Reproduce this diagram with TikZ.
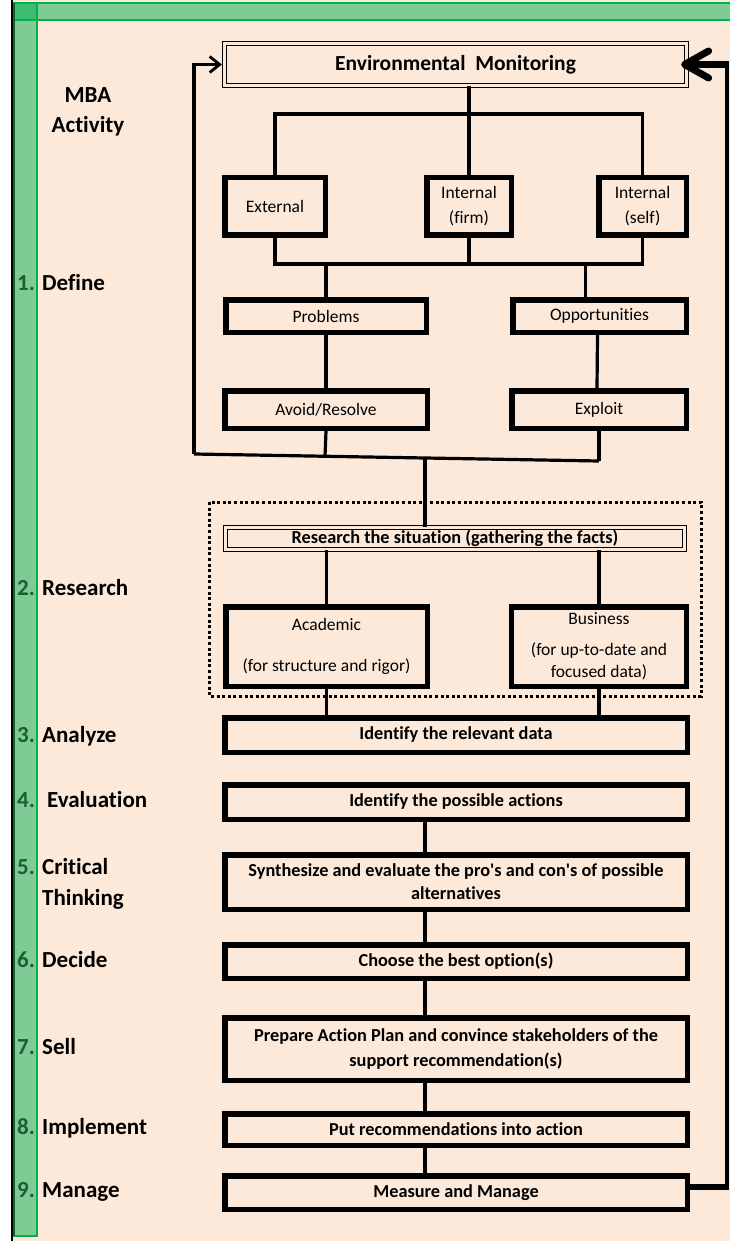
\documentclass[tikz,border=0pt]{standalone}
\usepackage{fontspec}
\setmainfont[Ligatures={TeX,NoCommon}]{Carlito}
\usetikzlibrary{arrows.meta}
\definecolor{peach}{HTML}{FDE9D9}
\definecolor{wgreen}{HTML}{00B050}
\definecolor{dgreen}{RGB}{15,95,45}
\definecolor{numgreen}{RGB}{25,95,55}
\begin{document}
\begin{tikzpicture}[x=1pt,y=-1pt,
  box/.style={draw=black, line width=5.5pt, inner sep=0pt, align=center, font=\fontsize{17.5}{21}\selectfont},
  bbox/.style={box, font=\fontsize{18.3}{23}\selectfont\bfseries, minimum width=462.5pt},
  dblbox/.style={draw=black, double=peach, double distance=2.5pt, line width=1.3pt, inner sep=0pt, align=center, font=\fontsize{18.3}{23}\selectfont\bfseries},
  conn/.style={draw=black, line width=3.2pt},
  conn2/.style={draw=black, line width=3.6pt},
  fbthin/.style={draw=black, line width=4pt},
  fbthick/.style={draw=black, line width=6.5pt},
  smallarrow/.style={-{Straight Barb[length=10pt,width=16pt,line width=2.8pt]}},
  bigarrow/.style={-{Straight Barb[length=24pt,width=27pt,line width=7pt,round]}},
  lab/.style={font=\fontsize{23}{30}\selectfont\bfseries, anchor=base west, inner sep=0pt},
  num/.style={lab, text=numgreen},
  dotbox/.style={draw=black, line width=3pt, dash pattern=on 3pt off 2.6pt}
]
\useasboundingbox (0,0) rectangle (730,1241);
% background
\fill[white] (0,0) rectangle (730,1241);
\fill[peach] (12,0) rectangle (730,1241);
\draw[black, line width=1.3pt] (12,0) -- (12,1241);
% green bars
\fill[wgreen, fill opacity=0.5] (14,3.5) rectangle (730,20.5);
\fill[wgreen, fill opacity=0.5] (14,3.5) rectangle (37,1236);
\draw[wgreen, line width=2pt] (14,3.5) rectangle (737,20.5);
\draw[wgreen, line width=2pt] (14,3.5) rectangle (37,1236);
\draw[dgreen, line width=2pt] (14,3.5) -- (14,1236);

% left labels
\node[lab, anchor=center, align=center] (mba) at (88,112) {MBA\\Activity};
\node[num] (n1) at (17,290.5) {1.};
\node[lab] (l1) at (42,290.5) {Define};
\node[num] (n2) at (17,595.5) {2.};
\node[lab] (l2) at (42,595.5) {Research};
\node[num] (n3) at (17,742.5) {3.};
\node[lab] (l3) at (42,742.5) {Analyze};
\node[num] (n4) at (17,807.5) {4.};
\node[lab] (l4) at (47,807.5) {Evaluation};
\node[num] (n5) at (17,874.5) {5.};
\node[lab] (l5) at (42,874.5) {Critical};
\node[lab] (l5b) at (42,905.5) {Thinking};
\node[num] (n6) at (17,967.5) {6.};
\node[lab] (l6) at (42,967.5) {Decide};
\node[num] (n7) at (17,1054.5) {7.};
\node[lab] (l7) at (42,1054.5) {Sell};
\node[num] (n8) at (17,1134.5) {8.};
\node[lab] (l8) at (42,1134.5) {Implement};
\node[num] (n9) at (17,1197.5) {9.};
\node[lab] (l9) at (42,1197.5) {Manage};

% boxes
\node[dblbox, minimum width=461.9pt, minimum height=41.9pt, font=\fontsize{21.5}{25}\selectfont\bfseries] (env) at (455.5,64.5) {Environmental\ \ Monitoring};
\node[box, minimum width=100.5pt, minimum height=57.5pt] (ext) at (275,206.5) {External};
\node[box, minimum width=84.5pt, minimum height=57.5pt, font=\fontsize{17.5}{25}\selectfont] (firm) at (469,206.5) {Internal\\(firm)};
\node[box, minimum width=87.5pt, minimum height=57.5pt, font=\fontsize{17.5}{25}\selectfont] (self) at (642.5,206.5) {Internal\\(self)};
\node[box, minimum width=200.5pt, minimum height=32.5pt] (prob) at (326,316) {Problems};
\node[box, minimum width=173.5pt, minimum height=32.5pt] (opp) at (599.5,316) {Opportunities};
\node[box, minimum width=202.5pt, minimum height=37.5pt] (avoid) at (326,409.5) {Avoid/Resolve};
\node[box, minimum width=174.5pt, minimum height=37.5pt] (exploit) at (599,409.5) {Exploit};
\node[dblbox, minimum width=458.9pt, minimum height=21.9pt] (research) at (455,538.5) {Research the situation (gathering the facts)};
\node[box, minimum width=201.5pt, minimum height=79.5pt] (acad) at (326.5,646.5) {Academic\\[20pt](for structure and rigor)};
\node[box, minimum width=175pt, minimum height=79.5pt, font=\fontsize{17.5}{22}\selectfont] (bus) at (599,646.5) {Business\\[9pt](for up-to-date and\\focused data)};
\node[bbox, minimum height=34.5pt] (relevant) at (456,735) {Identify the relevant data};
\node[bbox, minimum height=34.5pt] (actions) at (456,802) {Identify the possible actions};
\node[bbox, minimum height=54.5pt] (synth) at (456,882) {Synthesize and evaluate the pro\textquotesingle s and con\textquotesingle s of possible\\alternatives};
\node[bbox, minimum height=33.5pt] (choose) at (456,961.5) {Choose the best option(s)};
\node[bbox, minimum height=62.5pt, font=\fontsize{18.3}{25}\selectfont\bfseries] (prepare) at (456,1049) {Prepare Action Plan and convince stakeholders of the\\support recommendation(s)};
\node[bbox, minimum height=31.5pt] (put) at (456,1129.5) {Put recommendations into action};
\node[bbox, minimum height=33.5pt] (measure) at (456,1192.5) {Measure and Manage};

% dotted research frame
\draw[dotbox] (209,502) rectangle (701,696);

% coordinates
\coordinate (topbar) at (455,114);
\coordinate (midbar) at (455,264);
\coordinate (lb) at (194,454);
\coordinate (ab) at (325,456.3);
\coordinate (cb) at (425,458);
\coordinate (eb) at (599,461);
\coordinate (rb) at (727,1187);

% top tree
\draw[conn] (env.south -| firm.north) -- (firm.north);
\draw[conn] (ext.north) |- (self.north |- topbar) -- (self.north);
\draw[conn] (ext.south) |- (self.south |- midbar) -- (self.south);
\draw[conn] (firm.south) -- (firm.south |- midbar);
\draw[conn] (prob.north |- midbar) -- (prob.north);
\draw[conn] ([xshift=-14pt]opp.north |- midbar) -- ([xshift=-14pt]opp.north);
\draw[conn] (prob.south) -- (avoid.north);
\draw[conn] ([xshift=-2pt]opp.south) -- ([xshift=-2pt]exploit.north);
\draw[conn] (avoid.south) -- (ab);
\draw[conn] (exploit.south) -- (eb);
\draw[conn] (lb) -- (eb);
\draw[conn, smallarrow] (lb) |- ([xshift=-2pt]env.west);
\draw[conn] (cb) -- (cb |- research.north);

% research tree
\draw[conn] (acad.north |- research.south) -- (acad.north);
\draw[conn] (bus.north |- research.south) -- (bus.north);
\draw[conn] (acad.south) -- (acad.south |- relevant.north);
\draw[conn] (bus.south) -- (bus.south |- relevant.north);

% chain
\draw[conn2] (actions.south -| cb) -- (synth.north -| cb);
\draw[conn2] (synth.south -| cb) -- (choose.north -| cb);
\draw[conn2] (choose.south -| cb) -- (prepare.north -| cb);
\draw[conn2] (prepare.south -| cb) -- (put.north -| cb);
\draw[conn2] (put.south -| cb) -- (measure.north -| cb);

% feedback right
\draw[fbthick] (measure.east |- rb) -- (rb);
\draw[fbthin] ([yshift=-3pt]rb) -- (env.east -| rb);
\draw[fbthick, bigarrow] ([xshift=2pt]env.east -| rb) -- ([xshift=-6pt]env.east);
\end{tikzpicture}
\end{document}
